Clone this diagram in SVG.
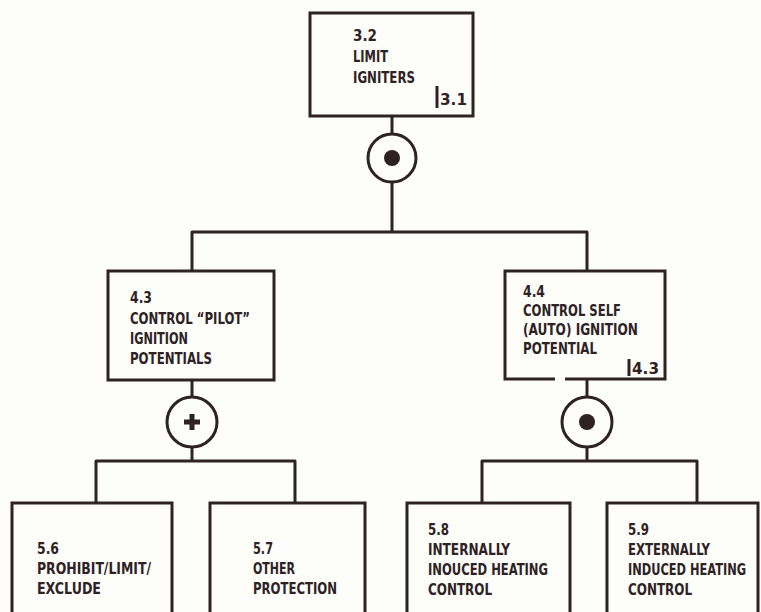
<svg xmlns="http://www.w3.org/2000/svg" width="761" height="612" viewBox="0 0 761 612">
<style>
.box{fill:none;stroke:#2e2225;stroke-width:3}
.ln{fill:none;stroke:#2e2225;stroke-width:3;stroke-linejoin:round}
.t{font-family:"DejaVu Sans Condensed","Liberation Sans Narrow","Arial Narrow",sans-serif;font-weight:bold;font-size:16px;fill:#2e2225}
.dot{fill:#2e2225}
</style>
<rect width="761" height="612" fill="#fdfdf9"/>
<g id="connectors">
<line class="ln" x1="392" y1="116" x2="392" y2="134"/>
<line class="ln" x1="392" y1="182" x2="392" y2="232"/>
<path class="ln" d="M192 271 V232 H587 V271"/>
<line class="ln" x1="192" y1="380" x2="192" y2="397"/>
<path class="ln" d="M96 503 V461 H295 V503"/>
<line class="ln" x1="192" y1="447" x2="192" y2="461"/>
<line class="ln" x1="587" y1="379" x2="587" y2="397"/>
<path class="ln" d="M482 503 V461 H697 V503"/>
<line class="ln" x1="587" y1="447" x2="587" y2="461"/>
</g>
<g id="gate1">
<circle class="ln" cx="392" cy="158" r="24"/>
<circle class="dot" cx="392" cy="158" r="8"/>
</g>
<g id="gate2">
<circle class="ln" cx="192" cy="422" r="25"/>
<path d="M184 422 H200 M192 414 V430" stroke="#2e2225" stroke-width="5" fill="none"/>
</g>
<g id="gate3">
<circle class="ln" cx="587" cy="422" r="25"/>
<circle class="dot" cx="587" cy="422" r="8"/>
</g>
<g id="n32">
<rect class="box" x="310" y="13" width="163" height="103"/>
<text class="t" x="353" y="41" textLength="24" lengthAdjust="spacingAndGlyphs">3.2</text>
<text class="t" x="353" y="62" textLength="35" lengthAdjust="spacingAndGlyphs">LIMIT</text>
<text class="t" x="353" y="83" textLength="62" lengthAdjust="spacingAndGlyphs">IGNITERS</text>
<line class="ln" x1="437" y1="86" x2="437" y2="108"/>
<text class="t" x="440" y="105" textLength="27" lengthAdjust="spacingAndGlyphs">3.1</text>
</g>
<g id="n43">
<rect class="box" x="108" y="271" width="166" height="109"/>
<text class="t" x="130" y="303" textLength="22" lengthAdjust="spacingAndGlyphs">4.3</text>
<text class="t" x="130" y="324" textLength="120" lengthAdjust="spacingAndGlyphs">CONTROL “PILOT”</text>
<text class="t" x="130" y="344" textLength="58" lengthAdjust="spacingAndGlyphs">IGNITION</text>
<text class="t" x="130" y="364" textLength="82" lengthAdjust="spacingAndGlyphs">POTENTIALS</text>
</g>
<g id="n44">
<path class="box" d="M555 379 H505 V271 H665 V379 H565"/>
<text class="t" x="523" y="297" textLength="22" lengthAdjust="spacingAndGlyphs">4.4</text>
<text class="t" x="523" y="316" textLength="98" lengthAdjust="spacingAndGlyphs">CONTROL SELF</text>
<text class="t" x="523" y="335" textLength="115" lengthAdjust="spacingAndGlyphs">(AUTO) IGNITION</text>
<text class="t" x="523" y="354" textLength="74" lengthAdjust="spacingAndGlyphs">POTENTIAL</text>
<line class="ln" x1="629" y1="359" x2="629" y2="376"/>
<text class="t" x="632" y="374" textLength="27" lengthAdjust="spacingAndGlyphs">4.3</text>
</g>
<g id="n56">
<path class="box" d="M12 612 V503 H172 V612"/>
<text class="t" x="37" y="554" textLength="22" lengthAdjust="spacingAndGlyphs">5.6</text>
<text class="t" x="37" y="574" textLength="114" lengthAdjust="spacingAndGlyphs">PROHIBIT/LIMIT/</text>
<text class="t" x="37" y="594" textLength="64" lengthAdjust="spacingAndGlyphs">EXCLUDE</text>
</g>
<g id="n57">
<path class="box" d="M210 612 V503 H365 V612"/>
<text class="t" x="253" y="554" textLength="20" lengthAdjust="spacingAndGlyphs">5.7</text>
<text class="t" x="253" y="574" textLength="42" lengthAdjust="spacingAndGlyphs">OTHER</text>
<text class="t" x="253" y="594" textLength="84" lengthAdjust="spacingAndGlyphs">PROTECTION</text>
</g>
<g id="n58">
<path class="box" d="M407 612 V503 H570 V612"/>
<text class="t" x="428" y="535" textLength="21" lengthAdjust="spacingAndGlyphs">5.8</text>
<text class="t" x="428" y="555" textLength="82" lengthAdjust="spacingAndGlyphs">INTERNALLY</text>
<text class="t" x="428" y="575" textLength="120" lengthAdjust="spacingAndGlyphs">INOUCED HEATING</text>
<text class="t" x="428" y="595" textLength="64" lengthAdjust="spacingAndGlyphs">CONTROL</text>
</g>
<g id="n59">
<path class="box" d="M607 612 V503 H758 V612"/>
<text class="t" x="628" y="535" textLength="21" lengthAdjust="spacingAndGlyphs">5.9</text>
<text class="t" x="628" y="555" textLength="82" lengthAdjust="spacingAndGlyphs">EXTERNALLY</text>
<text class="t" x="628" y="575" textLength="118" lengthAdjust="spacingAndGlyphs">INDUCED HEATING</text>
<text class="t" x="628" y="595" textLength="64" lengthAdjust="spacingAndGlyphs">CONTROL</text>
</g>
</svg>
